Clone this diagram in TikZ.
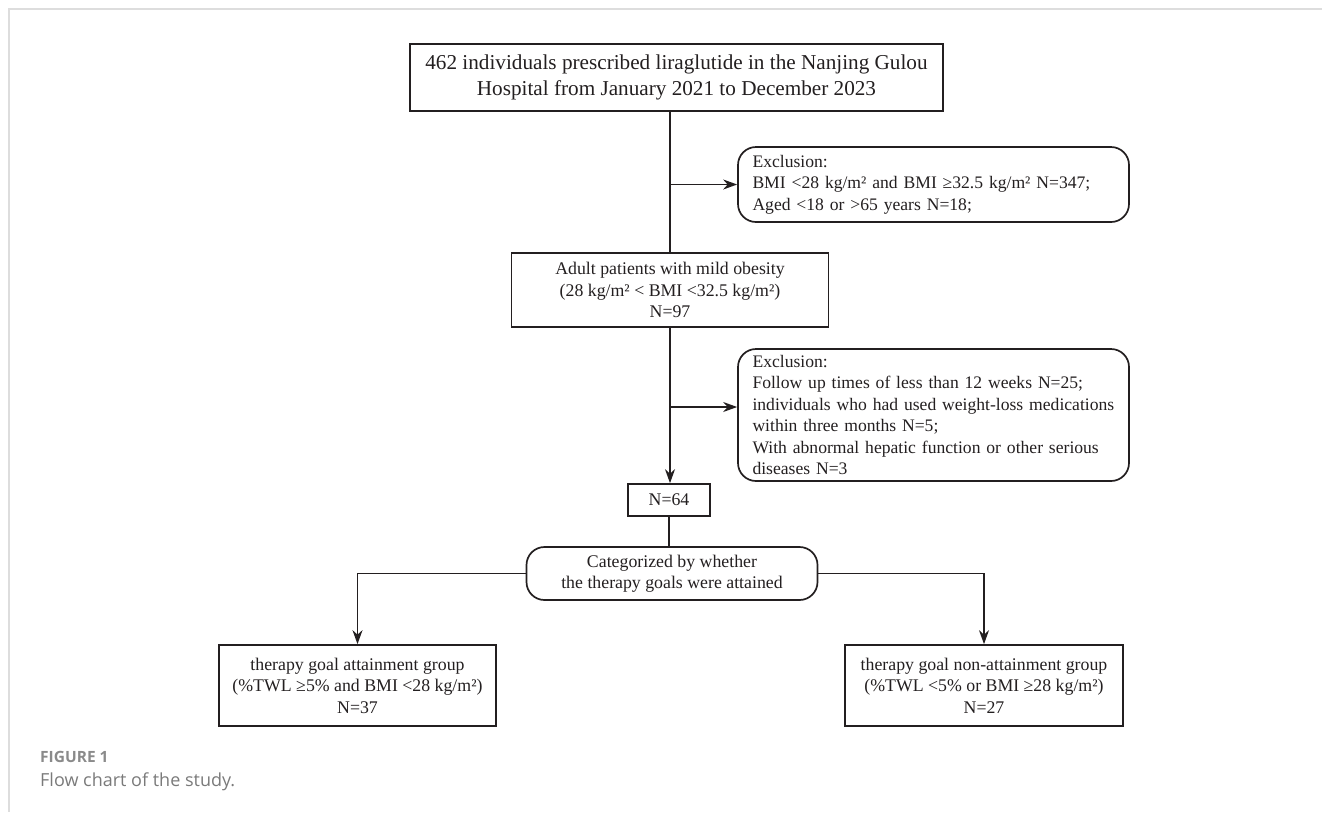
\documentclass[tikz,border=0pt]{standalone}
\usepackage{fontspec}
\setmainfont{Liberation Serif}
\newfontfamily\capfont{Open Sans}
\usetikzlibrary{arrows.meta}
\definecolor{ink}{HTML}{231F20}
\definecolor{capgray}{HTML}{7A7A7A}
\definecolor{capgraydark}{HTML}{8A8A8A}
\definecolor{framegray}{HTML}{DDDDDD}
\newcommand\myexclfont{\fontsize{17.6}{21.4}\selectfont\hyphenpenalty 10000 \exhyphenpenalty 10000 }
\tikzset{
  box/.style={draw=ink, line width=1.7pt, inner sep=0pt, align=center, text=ink,
    font=\fontsize{17.8}{21.5}\selectfont},
  rbox/.style={box, rounded corners=18pt},
  excl/.style={rbox, align=left, text width=362pt, inner xsep=14.5pt, minimum width=391pt,
    font=\myexclfont},
  conn/.style={draw=ink, line width=1.7pt},
  arr/.style={conn, -{Stealth[length=14pt,width=10pt,inset=4.5pt]}},
  captxt/.style={inner sep=0pt, anchor=base west, text=capgray},
}
\begin{document}
\begin{tikzpicture}[x=1pt,y=-1pt]
\useasboundingbox (0,0) rectangle (1322,812);
% page frame
\draw[framegray, line width=2pt] (1322,8.5) -- (9,8.5) -- (9,812);

\node[box, minimum width=533pt, minimum height=67pt,
      font=\fontsize{21.2}{25.5}\selectfont] (top) at (676.5,77.5)
  {462 individuals prescribed liraglutide in the Nanjing Gulou\\Hospital from January 2021 to December 2023};

\node[excl, minimum height=75pt] (ex1) at (933.5,184.5)
  {Exclusion:\\BMI <28 kg/m² and BMI ≥32.5 kg/m² N=347;\\Aged <18 or >65 years N=18;};

\node[box, minimum width=317pt, minimum height=74pt] (mid) at (670,290)
  {Adult patients with mild obesity\\(28 kg/m² < BMI <32.5 kg/m²)\\N=97};

\node[excl, minimum height=132pt] (ex2) at (933.5,415)
  {Exclusion:\\Follow up times of less than 12 weeks N=25;\\individuals who had used weight-loss medications\\within three months N=5;\\With abnormal hepatic function or other serious\\diseases N=3};

\node[box, minimum width=82pt, minimum height=32pt] (n64) at (669,500) {N=64};

\node[rbox, minimum width=291pt, minimum height=53pt] (cat) at (672,573.5)
  {Categorized by whether\\the therapy goals were attained};

\node[box, minimum width=277pt, minimum height=81pt] (lbox) at (357.5,685.5)
  {therapy goal attainment group\\(\%TWL ≥5\% and BMI <28 kg/m²)\\N=37};

\node[box, minimum width=278pt, minimum height=81pt] (rbox) at (984,685.5)
  {therapy goal non-attainment group\\(\%TWL <5\% or BMI ≥28 kg/m²)\\N=27};

\coordinate (b2) at (670,407);

\draw[conn] (top.south -| mid.north) -- (mid.north);
\draw[arr] (ex1.west -| mid.north) -- (ex1.west);
\draw[arr] (mid.south) -- (mid.south |- n64.north);
\draw[arr] (b2) -- (b2 -| ex2.west);
\draw[conn] (n64.south) -- (n64.south |- cat.north);
\draw[arr] (cat.west) -| (lbox.north);
\draw[arr] (cat.east) -| (rbox.north);

\node[captxt, text=capgraydark, font=\capfont\bfseries\fontsize{15.5}{18}\selectfont] (figlab) at (40,762) {FIGURE 1};
\node[captxt, font=\capfont\fontsize{18}{21}\selectfont] (figcap) at (40,786) {Flow chart of the study.};
\end{tikzpicture}
\end{document}
